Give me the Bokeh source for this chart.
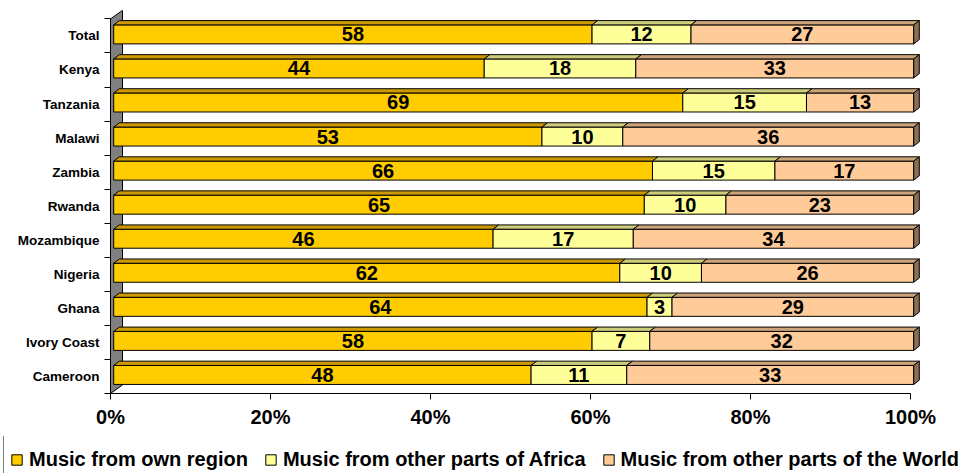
from bokeh.plotting import figure
from bokeh.models import FixedTicker, Legend, LegendItem, ColumnDataSource, Range1d
from bokeh.layouts import column
from bokeh.core.properties import value
from bokeh.embed import file_html
from bokeh.resources import INLINE

# ---- data ----
countries = ["Total", "Kenya", "Tanzania", "Malawi", "Zambia", "Rwanda",
             "Mozambique", "Nigeria", "Ghana", "Ivory Coast", "Cameroon"]
own = [58, 44, 69, 53, 66, 65, 46, 62, 64, 58, 48]
africa = [12, 18, 15, 10, 15, 10, 17, 10, 3, 7, 11]
world = [27, 33, 13, 36, 17, 23, 34, 26, 29, 32, 33]
series_names = ["Music from own region", "Music from other parts of Africa",
                "Music from other parts of the World"]
x_ticks = [0, 20, 40, 60, 80, 100]
x_tick_labels = ["0%", "20%", "40%", "60%", "80%", "100%"]

# ---- styles ----
FONT = value("Liberation Sans")
fronts = ["#FFCC00", "#FFFF99", "#FFCC99"]
tops = ["#CC9900", "#CCCC7A", "#CCA37A"]
side_color = "#8C6E50"
wall_color = "#808080"
FD = 0.4      # front-face shift (3D)
DX = 0.7      # depth in x (percent units)
DY = 0.126    # depth in y (row units)
H = 0.558     # bar face height
YO = 0.045    # face vertical shift
WX, WY = 1.5, 0.25  # wall depth

n = len(countries)
ys = [n - 1 - k for k in range(n)]
segs = [own, africa, world]
totals = [sum(s[k] for s in segs) for k in range(n)]

p = figure(width=965, height=436, output_backend="svg", toolbar_location=None,
           x_range=Range1d(0, 101.5), y_range=Range1d(-0.5, n + 0.04),
           min_border_left=110, min_border_right=43, min_border_top=0,
           min_border_bottom=43)
p.grid.visible = False
p.outline_line_color = None
p.background_fill_color = "white"

# back wall
p.patch([0, 0, WX, WX], [-0.5, n - 0.5, n - 0.5 + WY, -0.5 + WY],
        fill_color=wall_color, line_color="black", line_width=1)

sources = []
for s, (vals, fc, tc) in enumerate(zip(segs, fronts, tops)):
    l = [100 * sum(seg[k] for seg in segs[:s]) / totals[k] for k in range(n)]
    r = [l[k] + 100 * vals[k] / totals[k] for k in range(n)]
    src = ColumnDataSource(dict(
        y=[y + YO for y in ys],
        left=[v + FD for v in l],
        right=[v + FD for v in r],
        xm=[(a + b) / 2 + FD for a, b in zip(l, r)],
        txt=[str(v) for v in vals],
    ))
    sources.append(src)
    p.hbar(y="y", left="left", right="right", height=H, source=src,
           fill_color=fc, line_color="black", line_width=1)
    xs_top = [[l[k] + FD, l[k] + FD + DX, r[k] + FD + DX, r[k] + FD] for k in range(n)]
    ys_top = [[ys[k] + YO + H / 2, ys[k] + YO + H / 2 + DY,
               ys[k] + YO + H / 2 + DY, ys[k] + YO + H / 2] for k in range(n)]
    p.patches(xs_top, ys_top, fill_color=tc, line_color="black", line_width=1)
    p.text(x="xm", y="y", text="txt", source=src, text_font=FONT,
           text_font_style="bold", text_font_size="20px", text_align="center",
           text_baseline="middle", text_color="black")

# right side faces
R = 100 + FD
xs_side = [[R, R + DX, R + DX, R] for k in range(n)]
ys_side = [[ys[k] + YO - H / 2, ys[k] + YO - H / 2 + DY,
            ys[k] + YO + H / 2 + DY, ys[k] + YO + H / 2] for k in range(n)]
p.patches(xs_side, ys_side, fill_color=side_color, line_color="black", line_width=1)

# y axis
p.yaxis.ticker = FixedTicker(ticks=ys, minor_ticks=[k - 0.5 for k in range(n + 1)])
p.yaxis.major_label_overrides = {y: c for y, c in zip(ys, countries)}
p.yaxis.major_tick_line_color = None
p.yaxis.major_tick_out = 0
p.yaxis.major_tick_in = 0
p.yaxis.minor_tick_out = 6
p.yaxis.minor_tick_in = 0
p.yaxis.minor_tick_line_color = "black"
p.yaxis.axis_line_color = "black"
p.yaxis.bounds = (-0.5, n - 0.5)
p.yaxis.major_label_standoff = 5
p.yaxis.major_label_text_font = "Liberation Sans"
p.yaxis.major_label_text_font_style = "bold"
p.yaxis.major_label_text_font_size = "13.5px"
p.yaxis.major_label_text_color = "black"

# x axis
p.xaxis.ticker = FixedTicker(ticks=x_ticks, minor_ticks=[])
p.xaxis.major_label_overrides = {t: lab for t, lab in zip(x_ticks, x_tick_labels)}
p.xaxis.major_tick_out = 6
p.xaxis.major_tick_in = 0
p.xaxis.major_tick_line_color = "black"
p.xaxis.axis_line_color = "black"
p.xaxis.bounds = (0, 100)
p.xaxis.major_label_standoff = 6
p.xaxis.major_label_text_font = "Liberation Sans"
p.xaxis.major_label_text_font_style = "bold"
p.xaxis.major_label_text_font_size = "20px"
p.xaxis.major_label_text_color = "black"

# legend strip (its own figure, full-width frame; data kept out of view)
q = figure(width=965, height=37, output_backend="svg", toolbar_location=None,
           x_axis_type=None, y_axis_type=None,
           x_range=Range1d(1000, 1001), y_range=Range1d(1000, 1001),
           min_border_left=0, min_border_right=0, min_border_top=0, min_border_bottom=0)
q.grid.visible = False
q.outline_line_color = None
for fig in (p, q):
    if "frame_align" in fig.properties():
        fig.frame_align = False
keys = [q.hbar(y="y", left="left", right="right", height=H, source=src, fill_color=fc,
               line_color="black", line_width=1) for src, fc in zip(sources, fronts)]
legend = Legend(items=[LegendItem(label=nm, renderers=[rd]) for nm, rd in zip(series_names, keys)],
                orientation="horizontal", location=(3, -10), padding=6,
                label_height=34, glyph_height=13, glyph_width=13, label_standoff=6,
                spacing=16, margin=0, border_line_color="black", border_line_width=1,
                background_fill_color="white", background_fill_alpha=1,
                label_text_font="Liberation Sans", label_text_font_style="bold",
                label_text_font_size="20px", label_text_color="black")
q.add_layout(legend, "center")

layout = column(p, q, spacing=0)
open("out.html", "w").write(file_html(layout, INLINE))
